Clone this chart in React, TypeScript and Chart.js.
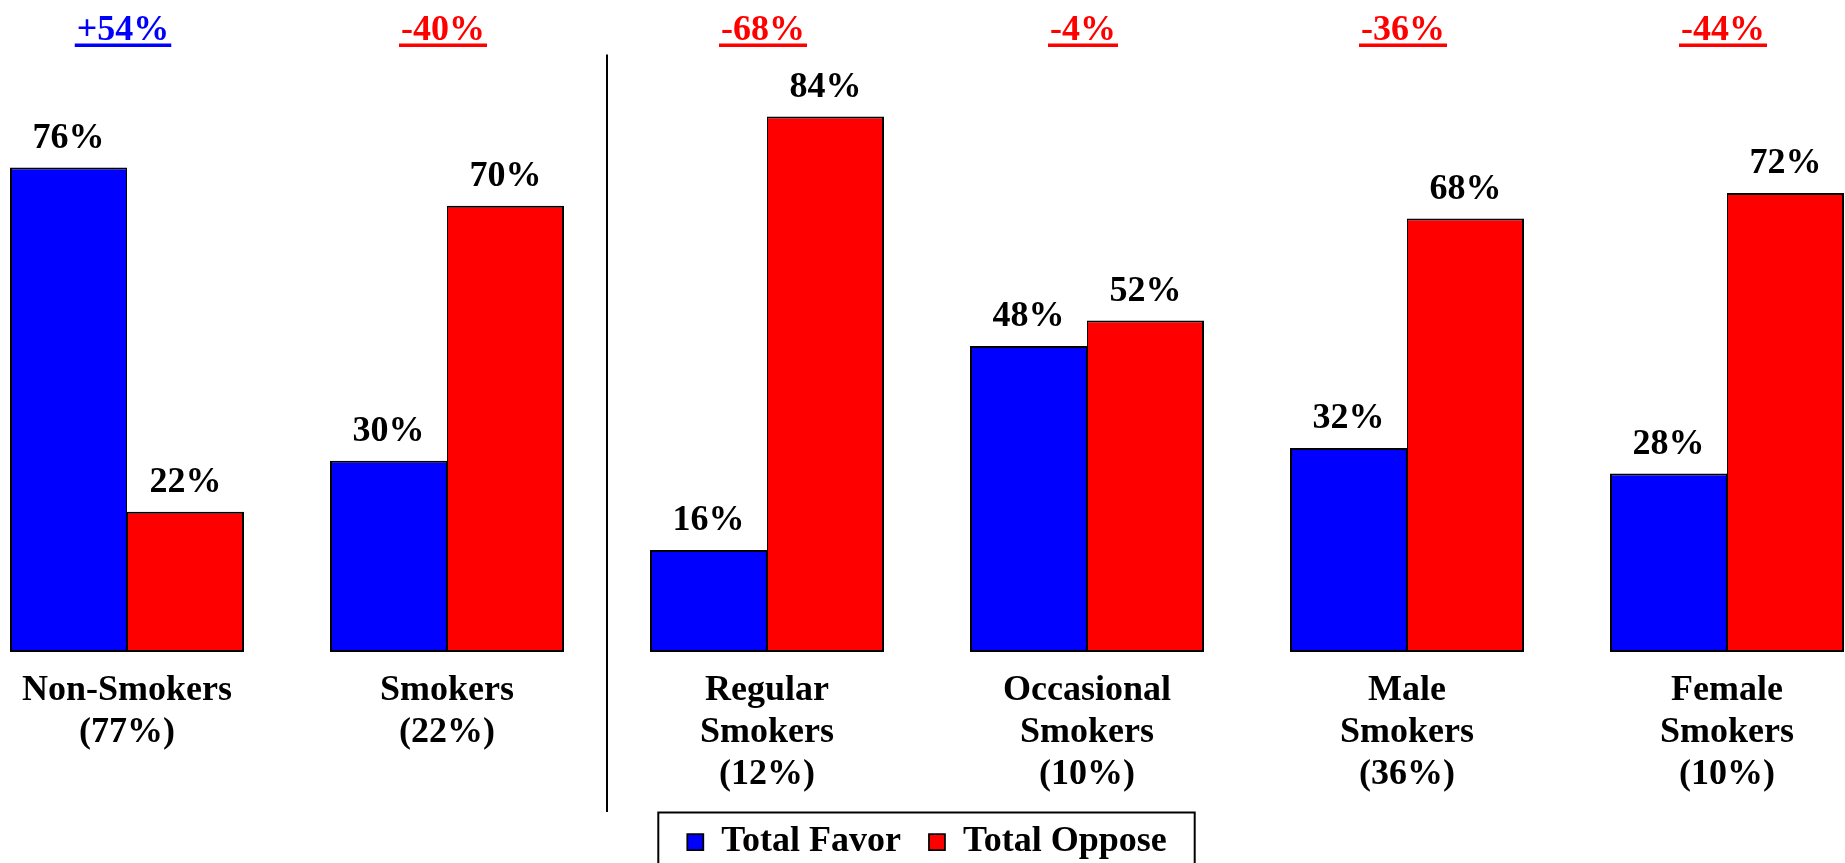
import { useEffect, useRef } from 'react';
import { Chart, registerables } from 'chart.js';

Chart.register(...registerables);

const categories: string[][] = [
  ['Non-Smokers', '(77%)'],
  ['Smokers', '(22%)'],
  ['Regular', 'Smokers', '(12%)'],
  ['Occasional', 'Smokers', '(10%)'],
  ['Male', 'Smokers', '(36%)'],
  ['Female', 'Smokers', '(10%)'],
];
const seriesNames = ['Total Favor', 'Total Oppose'];
const favorValues = [76, 30, 16, 48, 32, 28];
const opposeValues = [22, 70, 84, 52, 68, 72];
const netLabels = ['+54%', '-40%', '-68%', '-4%', '-36%', '-44%'];

const FONT = "'Times New Roman', 'Liberation Serif', serif";
const CANVAS_W = 1845;
const CANVAS_H = 880;

const overlayPlugin = {
  id: 'overlay',
  afterDatasetsDraw(chart: any) {
    const ctx = chart.ctx;
    const xs = chart.scales.x;
    const area = chart.chartArea;
    ctx.save();
    ctx.font = `bold 36px ${FONT}`;
    ctx.textAlign = 'center';
    ctx.textBaseline = 'alphabetic';
    ctx.fillStyle = '#000';
    chart.data.datasets.forEach((ds: any, di: number) => {
      const meta = chart.getDatasetMeta(di);
      meta.data.forEach((el: any, i: number) => {
        ctx.fillText(`${ds.data[i]}%`, el.x, el.y - 20);
      });
    });
    netLabels.forEach((t, i) => {
      const cx = xs.getPixelForValue(i) - 4;
      const color = t.startsWith('+') ? '#0000FF' : '#FF0000';
      ctx.fillStyle = color;
      const by = area.top + 25.5;
      ctx.fillText(t, cx, by);
      const w = ctx.measureText(t).width;
      ctx.fillRect(cx - w / 2 - 2, by + 3.5, w + 4, 3.5);
    });
    const dx = (xs.getPixelForValue(1) + xs.getPixelForValue(2)) / 2;
    ctx.strokeStyle = '#000';
    ctx.lineWidth = 2;
    ctx.beginPath();
    ctx.moveTo(dx, area.top + 40);
    ctx.lineTo(dx, area.bottom + 160);
    ctx.stroke();
    ctx.restore();
  },
  afterDraw(chart: any) {
    const hb = chart.legend && chart.legend.legendHitBoxes;
    if (!hb || !hb.length) return;
    const ctx = chart.ctx;
    const last = hb[hb.length - 1];
    const left = hb[0].left - 29;
    const right = last.left + last.width + 28;
    const top = hb[0].top + 18 - 29.5;
    ctx.save();
    ctx.strokeStyle = '#000';
    ctx.lineWidth = 2;
    ctx.strokeRect(left, top, right - left, chart.height + 20);
    ctx.restore();
  },
};

export default function App() {
  const canvasRef = useRef<HTMLCanvasElement | null>(null);

  useEffect(() => {
    if (!canvasRef.current) return;
    const chart = new Chart(canvasRef.current, {
      type: 'bar',
      data: {
        labels: categories,
        datasets: [
          {
            label: seriesNames[0],
            data: favorValues,
            backgroundColor: '#0000FF',
            borderColor: '#000000',
            borderWidth: { top: 2, left: 2, bottom: 2, right: 1 },
            borderSkipped: false,
            clip: false,
          },
          {
            label: seriesNames[1],
            data: opposeValues,
            backgroundColor: '#FF0000',
            borderColor: '#000000',
            borderWidth: { top: 2, left: 1, bottom: 2, right: 2 },
            borderSkipped: false,
            clip: false,
          },
        ],
      },
      options: {
        responsive: false,
        animation: false,
        devicePixelRatio: 1,
        events: [],
        layout: { padding: { left: 127, right: 118, top: 14.5, bottom: 10 } },
        datasets: {
          bar: { categoryPercentage: 0.73125, barPercentage: 1 },
        },
        scales: {
          x: {
            offset: false,
            grid: { display: false, drawTicks: true, tickLength: 18 },
            border: { display: false },
            ticks: {
              autoSkip: false,
              maxRotation: 0,
              minRotation: 0,
              padding: 0,
              color: '#000',
              font: { family: FONT, size: 36, weight: 'bold', lineHeight: 42 / 36 },
            },
          },
          y: {
            display: false,
            min: 0,
            max: 100,
          },
        },
        plugins: {
          tooltip: { enabled: false },
          legend: {
            display: true,
            position: 'bottom',
            labels: {
              boxWidth: 16,
              boxHeight: 16,
              padding: 28,
              color: '#000',
              font: { family: FONT, size: 36, weight: 'bold' },
            },
          },
        },
      },
      plugins: [overlayPlugin],
    } as any);
    return () => chart.destroy();
  }, []);

  return (
    <div
      style={{
        position: 'fixed',
        left: 0,
        top: 0,
        width: CANVAS_W,
        height: 863,
        overflow: 'hidden',
        background: '#fff',
      }}
    >
      <canvas ref={canvasRef} width={CANVAS_W} height={CANVAS_H} style={{ display: 'block' }} />
    </div>
  );
}
